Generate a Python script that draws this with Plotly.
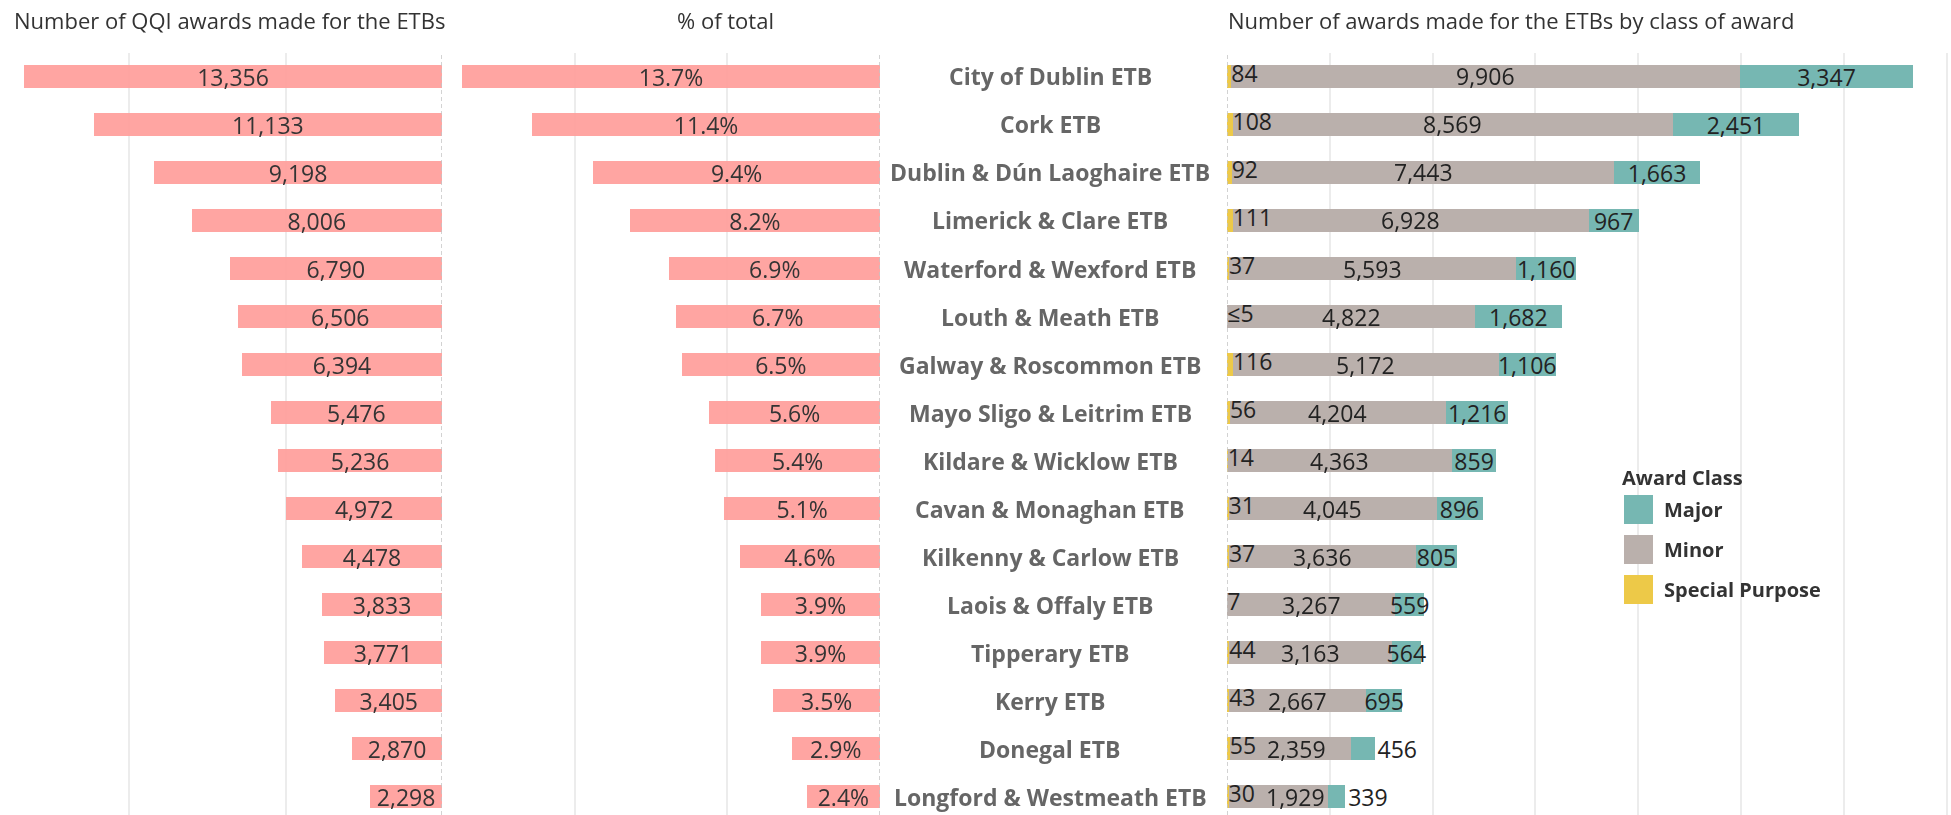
import plotly.graph_objects as go

# ---------------- data ----------------
etbs = [
    "City of Dublin ETB", "Cork ETB", "Dublin & Dún Laoghaire ETB", "Limerick & Clare ETB",
    "Waterford & Wexford ETB", "Louth & Meath ETB", "Galway & Roscommon ETB",
    "Mayo Sligo & Leitrim ETB", "Kildare & Wicklow ETB", "Cavan & Monaghan ETB",
    "Kilkenny & Carlow ETB", "Laois & Offaly ETB", "Tipperary ETB", "Kerry ETB",
    "Donegal ETB", "Longford & Westmeath ETB",
]
total_awards = [13356, 11133, 9198, 8006, 6790, 6506, 6394, 5476, 5236, 4972, 4478, 3833, 3771, 3405, 2870, 2298]
pct_of_total = [13.7, 11.4, 9.4, 8.2, 6.9, 6.7, 6.5, 5.6, 5.4, 5.1, 4.6, 3.9, 3.9, 3.5, 2.9, 2.4]
special_purpose = [84, 108, 92, 111, 37, 5, 116, 56, 14, 31, 37, 7, 44, 43, 55, 30]
special_labels = ["84", "108", "92", "111", "37", "≤5", "116", "56", "14", "31", "37", "7", "44", "43", "55", "30"]
minor = [9906, 8569, 7443, 6928, 5593, 4822, 5172, 4204, 4363, 4045, 3636, 3267, 3163, 2667, 2359, 1929]
major = [3347, 2451, 1663, 967, 1160, 1682, 1106, 1216, 859, 896, 805, 559, 564, 695, 456, 339]

award_classes = ["Major", "Minor", "Special Purpose"]
class_colors = {"Major": "#76b7b2", "Minor": "#bab0ac", "Special Purpose": "#edc948"}

titles = [
    "Number of QQI awards made for the ETBs",
    "% of total",
    "Number of awards made for the ETBs by class of award",
]

# ---------------- layout helpers ----------------
W, H = 1951, 815
FONT = "Open Sans"


def px_x(x):
    return x / W


def px_y(y):
    return 1 - y / H


BAR_W = 0.48
LABEL_SIZE = 23
label_font = dict(family=FONT, size=LABEL_SIZE, color="#222222")

# panel 3 axis geometry
X3_LEFT_PX = 1227
X3_PX_PER_UNIT = 0.0514
X3_MAX = (W - X3_LEFT_PX) / X3_PX_PER_UNIT


def est_text_width(s, size=LABEL_SIZE):
    w = 0.0
    for ch in s:
        if ch == ",":
            w += 0.25 * size
        else:
            w += 0.572 * size
    return w


fig = go.Figure()

# Panel 1: totals
fig.add_trace(go.Bar(
    x=total_awards, y=etbs, orientation="h", xaxis="x", yaxis="y",
    marker=dict(color="#ff9d9a", line=dict(width=0)), opacity=0.92, width=BAR_W,
    text=[f"{v:,}" for v in total_awards], textposition="inside",
    insidetextanchor="middle", textangle=0, constraintext="none",
    insidetextfont=label_font, hoverinfo="skip", showlegend=False,
))

# Panel 2: % of total
fig.add_trace(go.Bar(
    x=pct_of_total, y=etbs, orientation="h", xaxis="x2", yaxis="y",
    marker=dict(color="#ff9d9a", line=dict(width=0)), opacity=0.92, width=BAR_W,
    text=[f"{v:.1f}%" for v in pct_of_total], textposition="inside",
    insidetextanchor="middle", textangle=0, constraintext="none",
    insidetextfont=label_font, hoverinfo="skip", showlegend=False,
))

# Panel 3: stacked by class
fig.add_trace(go.Bar(
    x=special_purpose, y=etbs, orientation="h", xaxis="x3", yaxis="y",
    marker=dict(color=class_colors["Special Purpose"], line=dict(width=0)), width=BAR_W,
    name="Special Purpose", hoverinfo="skip", showlegend=False,
))
fig.add_trace(go.Bar(
    x=minor, y=etbs, orientation="h", xaxis="x3", yaxis="y",
    marker=dict(color=class_colors["Minor"], line=dict(width=0)), width=BAR_W,
    name="Minor", hoverinfo="skip", showlegend=False,
))
fig.add_trace(go.Bar(
    x=major, y=etbs, orientation="h", xaxis="x3", yaxis="y",
    marker=dict(color=class_colors["Major"], line=dict(width=0)), width=BAR_W,
    text=[f"{v:,}" for v in major],
    textposition=["outside" if v < 500 else "inside" for v in major],
    insidetextanchor="middle", textangle=0, constraintext="none",
    insidetextfont=label_font, outsidetextfont=label_font,
    name="Major", hoverinfo="skip", showlegend=False, cliponaxis=False,
))
# Special purpose labels, written just after the yellow segment
fig.add_trace(go.Scatter(
    x=special_purpose, y=etbs, xaxis="x3", yaxis="y", mode="text",
    text=special_labels, textposition="middle right",
    textfont=label_font, hoverinfo="skip", showlegend=False, cliponaxis=False,
))

# Minor labels: centred on their segment, nudged right if they would collide
for name, sp, sp_lab, mn in zip(etbs, special_purpose, special_labels, minor):
    lab = f"{mn:,}"
    centre = sp + mn / 2
    sp_end_px = sp * X3_PX_PER_UNIT + 3 + est_text_width(sp_lab)
    left_px = centre * X3_PX_PER_UNIT - est_text_width(lab) / 2
    shift = max(0.0, sp_end_px + 8 - left_px)
    fig.add_annotation(text=lab, xref="x3", yref="y", x=centre, y=name, xshift=shift,
                       xanchor="center", yanchor="middle", showarrow=False, font=label_font)

# ---------------- axes ----------------
grid = dict(showgrid=True, gridcolor="#ececec", gridwidth=1.5, zeroline=False,
            showticklabels=False, ticks="", showline=False, fixedrange=True)

y_top_px = 52.5
row_px = 48.0
first_row_px = 76.5
y_bottom_val = (H - first_row_px) / row_px

fig.update_layout(
    width=W, height=H,
    margin=dict(l=0, r=0, t=0, b=0, pad=0),
    paper_bgcolor="white", plot_bgcolor="white",
    barmode="stack",
    font=dict(family=FONT, color="#333333"),
    xaxis=dict(domain=[px_x(4), px_x(442)], range=[14000, 0], tickvals=[5000, 10000], anchor="y", **grid),
    xaxis2=dict(domain=[px_x(442), px_x(880)], range=[438 / 30.51, 0], tickvals=[5, 10], anchor="y", **grid),
    xaxis3=dict(domain=[px_x(X3_LEFT_PX), 1.0], range=[0, X3_MAX],
                tickvals=[2000, 4000, 6000, 8000, 10000, 12000, 14000], anchor="y", **grid),
    yaxis=dict(domain=[0, px_y(y_top_px)], type="category", categoryorder="array", categoryarray=etbs,
               range=[y_bottom_val, -0.5], showgrid=False, zeroline=False, showticklabels=False,
               ticks="", showline=False, fixedrange=True),
)

# dashed zero lines
dash_line = dict(color="#c4c4c4", width=1.5, dash="4px,3px")
for xr in ["x", "x2", "x3"]:
    fig.add_shape(type="line", xref=xr, yref="y domain", x0=0, x1=0, y0=0, y1=1,
                  line=dash_line, layer="above")

# titles
title_y = px_y(20)
title_font = dict(family=FONT, size=22, color="#333333")
fig.add_annotation(text=titles[0], xref="paper", yref="paper", x=px_x(12), y=title_y,
                   xanchor="left", yanchor="middle", showarrow=False, font=title_font)
fig.add_annotation(text=titles[1], xref="paper", yref="paper", x=px_x(725), y=title_y,
                   xanchor="center", yanchor="middle", showarrow=False, font=title_font)
fig.add_annotation(text=titles[2], xref="paper", yref="paper", x=px_x(1226), y=title_y,
                   xanchor="left", yanchor="middle", showarrow=False, font=title_font)

# centre ETB labels
for name in etbs:
    fig.add_annotation(text=name, xref="paper", yref="y", x=px_x(1050), y=name,
                       xanchor="center", yanchor="middle", showarrow=False,
                       font=dict(family=FONT, size=23, color="#666666", weight="bold"))

# custom legend
fig.add_annotation(text="Award Class", xref="paper", yref="paper", x=px_x(1620), y=px_y(478),
                   xanchor="left", yanchor="middle", showarrow=False,
                   font=dict(family=FONT, size=20, color="#333333", weight="bold"))
for i, cls in enumerate(award_classes):
    top = 495 + 40 * i
    fig.add_shape(type="rect", xref="paper", yref="paper",
                  x0=px_x(1624), x1=px_x(1653), y0=px_y(top + 29), y1=px_y(top),
                  fillcolor=class_colors[cls], line=dict(width=0))
    fig.add_annotation(text=cls, xref="paper", yref="paper", x=px_x(1662), y=px_y(top + 14.5),
                       xanchor="left", yanchor="middle", showarrow=False,
                       font=dict(family=FONT, size=20, color="#333333", weight="bold"))

fig.write_html("out.html", config={"displayModeBar": False},
               post_script="document.body.style.margin='0';document.body.style.overflow='hidden';")
